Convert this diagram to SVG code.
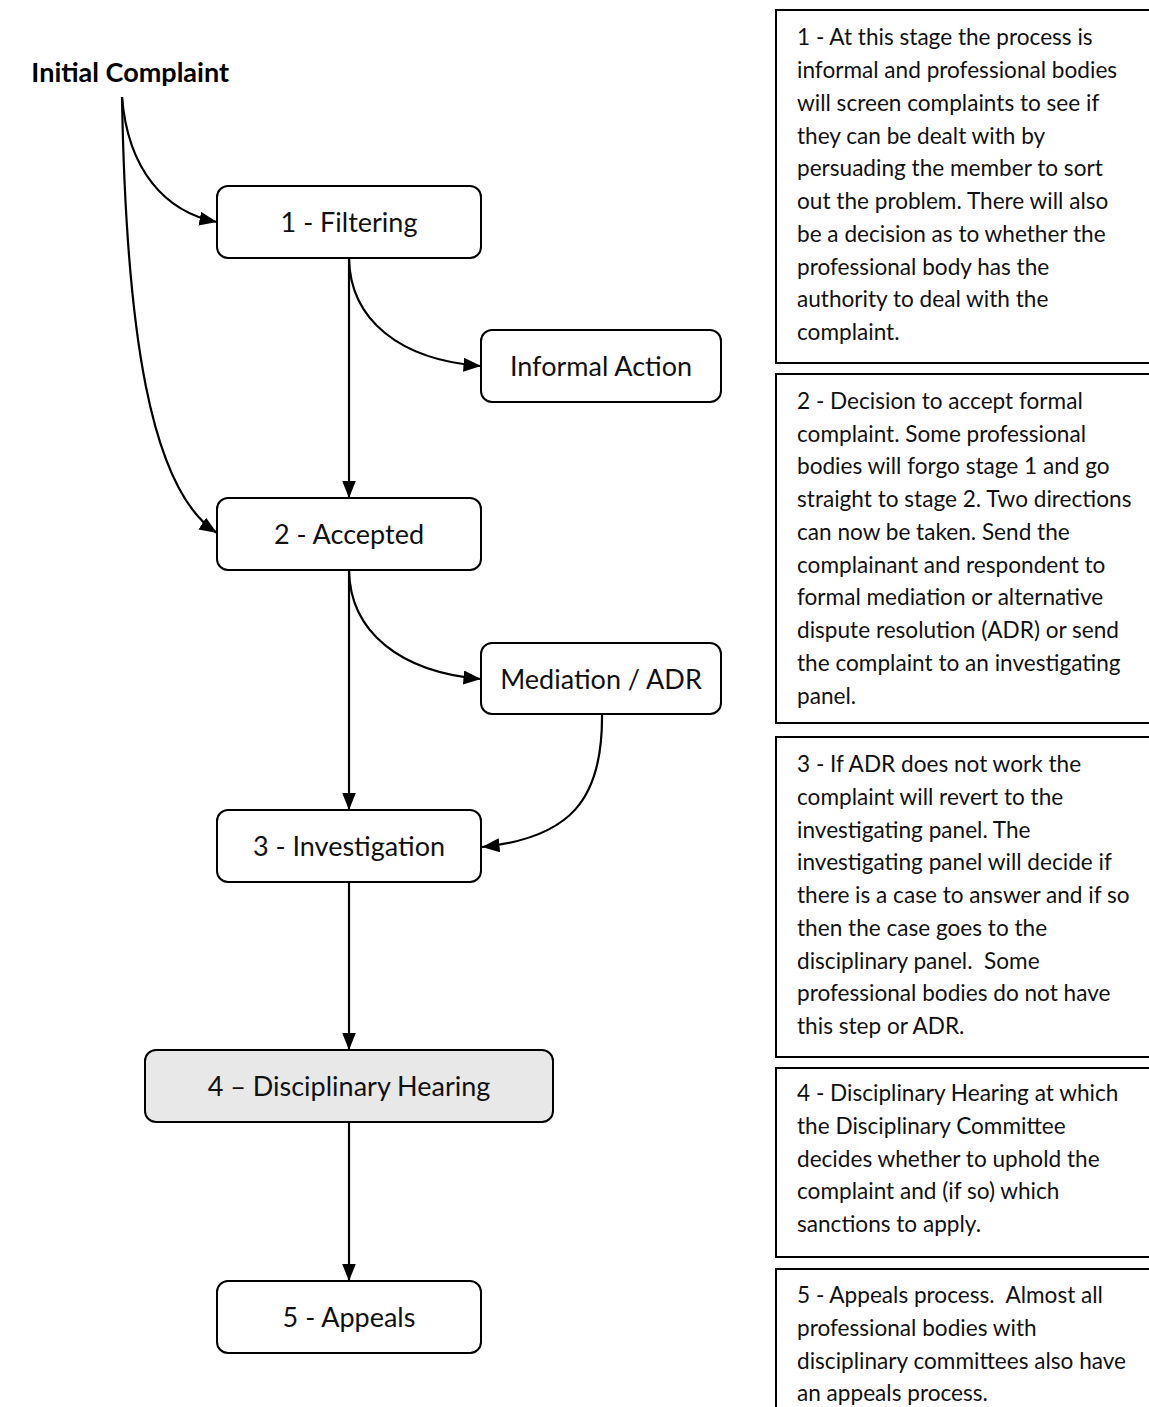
<svg xmlns="http://www.w3.org/2000/svg" width="1149" height="1407" viewBox="0 0 1149 1407">
<style>
.node rect{fill:#ffffff;stroke:#000000;stroke-width:2}
.node text{font-family:Lato,"Open Sans","Liberation Sans",sans-serif;font-size:27px;fill:#111111;text-anchor:middle}
.note rect{fill:#ffffff;stroke:#000000;stroke-width:2}
.note text{font-family:Lato,"Open Sans","Liberation Sans",sans-serif;font-size:22.6px;fill:#111111}
.conn path{fill:none;stroke:#000000;stroke-width:2.2;marker-end:url(#arr)}
.title{font-family:Lato,"Open Sans","Liberation Sans",sans-serif;font-size:27px;font-weight:bold;fill:#000000}
</style>
<defs>
<marker id="arr" markerUnits="userSpaceOnUse" markerWidth="19" markerHeight="15" refX="17.5" refY="7" orient="auto">
<path d="M0,0 L17.5,7 L0,14 z" fill="#000000"/>
</marker>
</defs>
<rect x="0" y="0" width="1149" height="1407" fill="#ffffff"/>

<g id="initial-complaint">
<text class="title" x="229" y="82" text-anchor="end">Initial Complaint</text>
</g>

<g id="connectors" class="conn">
<path d="M122,97 C128,170 165,212 217,222"/>
<path d="M122,97 C126,330 150,490 217,533"/>
<path d="M349,258 L349,498"/>
<path d="M349,258 C350,320 400,360 481,366"/>
<path d="M349,570 L349,810"/>
<path d="M349,570 C350,632 400,672 481,679"/>
<path d="M602,714 C603,800 570,838 482,847"/>
<path d="M349,882 L349,1050"/>
<path d="M349,1122 L349,1281"/>
</g>

<g id="n1-filtering" class="node">
<rect x="217" y="186" width="264" height="72" rx="11"/>
<text x="349" y="232">1 - Filtering</text>
</g>
<g id="n-informal" class="node">
<rect x="481" y="330" width="240" height="72" rx="11"/>
<text x="601" y="376">Informal Action</text>
</g>
<g id="n2-accepted" class="node">
<rect x="217" y="498" width="264" height="72" rx="11"/>
<text x="349" y="544">2 - Accepted</text>
</g>
<g id="n-mediation" class="node">
<rect x="481" y="643" width="240" height="71" rx="11"/>
<text x="601" y="689">Mediation / ADR</text>
</g>
<g id="n3-investigation" class="node">
<rect x="217" y="810" width="264" height="72" rx="11"/>
<text x="349" y="856">3 - Investigation</text>
</g>
<g id="n4-disciplinary" class="node">
<rect x="145" y="1050" width="408" height="72" rx="11" style="fill:#e8e8e8"/>
<text x="349" y="1096">4 – Disciplinary Hearing</text>
</g>
<g id="n5-appeals" class="node">
<rect x="217" y="1281" width="264" height="72" rx="11"/>
<text x="349" y="1327">5 - Appeals</text>
</g>

<g id="note1" class="note">
<rect x="776" y="10" width="420" height="353"/>
<text x="797" y="45">1 - At this stage the process is</text>
<text x="797" y="78">informal and professional bodies</text>
<text x="797" y="111">will screen complaints to see if</text>
<text x="797" y="144">they can be dealt with by</text>
<text x="797" y="176">persuading the member to sort</text>
<text x="797" y="209">out the problem. There will also</text>
<text x="797" y="242">be a decision as to whether the</text>
<text x="797" y="275">professional body has the</text>
<text x="797" y="307">authority to deal with the</text>
<text x="797" y="340">complaint.</text>
</g>
<g id="note2" class="note">
<rect x="776" y="374" width="420" height="349"/>
<text x="797" y="409">2 - Decision to accept formal</text>
<text x="797" y="442">complaint. Some professional</text>
<text x="797" y="474">bodies will forgo stage 1 and go</text>
<text x="797" y="507">straight to stage 2. Two directions</text>
<text x="797" y="540">can now be taken. Send the</text>
<text x="797" y="573">complainant and respondent to</text>
<text x="797" y="605">formal mediation or alternative</text>
<text x="797" y="638">dispute resolution (ADR) or send</text>
<text x="797" y="671">the complaint to an investigating</text>
<text x="797" y="704">panel.</text>
</g>
<g id="note3" class="note">
<rect x="776" y="737" width="420" height="320"/>
<text x="797" y="772">3 - If ADR does not work the</text>
<text x="797" y="805">complaint will revert to the</text>
<text x="797" y="838">investigating panel. The</text>
<text x="797" y="870">investigating panel will decide if</text>
<text x="797" y="903">there is a case to answer and if so</text>
<text x="797" y="936">then the case goes to the</text>
<text x="797" y="969" xml:space="preserve">disciplinary panel.  Some</text>
<text x="797" y="1001">professional bodies do not have</text>
<text x="797" y="1034">this step or ADR.</text>
</g>
<g id="note4" class="note">
<rect x="776" y="1068" width="420" height="189"/>
<text x="797" y="1101">4 - Disciplinary Hearing at which</text>
<text x="797" y="1134">the Disciplinary Committee</text>
<text x="797" y="1167">decides whether to uphold the</text>
<text x="797" y="1199">complaint and (if so) which</text>
<text x="797" y="1232">sanctions to apply.</text>
</g>
<g id="note5" class="note">
<rect x="776" y="1269" width="420" height="160"/>
<text x="797" y="1303" xml:space="preserve">5 - Appeals process.  Almost all</text>
<text x="797" y="1336">professional bodies with</text>
<text x="797" y="1369">disciplinary committees also have</text>
<text x="797" y="1401">an appeals process.</text>
</g>
</svg>
